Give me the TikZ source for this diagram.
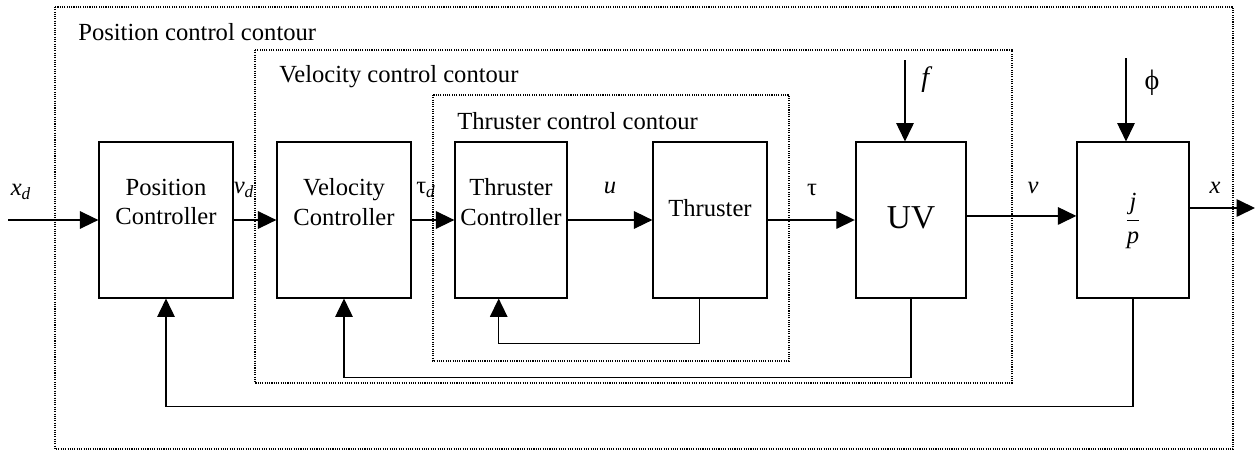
\documentclass[tikz,border=0pt]{standalone}
\usepackage{fontspec}
\setmainfont{Liberation Serif}
\usetikzlibrary{arrows.meta}

\tikzset{
  block/.style={draw, line width=1pt, minimum height=88.4pt, inner sep=0pt},
  contour/.style={line width=0.6pt, dash pattern=on 0.6pt off 0.7pt},
  sig/.style={line width=0.7pt, -{Triangle[length=10.5pt,width=10pt]}},
  txt/.style={font=\fontsize{14}{17}\selectfont, align=center, inner sep=0pt},
}

\begin{document}
\begin{tikzpicture}[x=0.02cm,y=-0.02cm]
\useasboundingbox (0,0) rectangle (1257,453);

% nested control contours
\draw[contour] (55,7) rectangle (1233,449);
\draw[contour] (255,50) rectangle (1012,383);
\draw[contour] (433,95) rectangle (789,361);
\node[txt, anchor=west] (posccl) at (78,32) {Position control contour};
\node[txt, anchor=west] (velccl) at (279,77) {Velocity control contour};
\node[txt, anchor=west] (thrccl) at (457,121) {Thruster control contour};

% blocks
\node[block, minimum width=76pt] (posc) at (166,220) {};
\node[block, minimum width=76pt] (velc) at (344,220) {};
\node[block, minimum width=63.5pt] (thrc) at (511,220) {};
\node[block, minimum width=64.6pt] (thr) at (710,220) {};
\node[block, minimum width=63pt] (uv) at (911,220) {};
\node[block, minimum width=63.5pt] (jp) at (1133,220) {};

\node[txt] (posct) at (166,202) {Position\\Controller};
\node[txt] (velct) at (344,202) {Velocity\\Controller};
\node[txt] (thrct) at (511,202) {Thruster\\Controller};
\node[txt] (thrt) at (710,208) {Thruster};
\node[txt, font=\fontsize{19}{22}\selectfont] (uvt) at (911,218) {UV};
\node[txt] (jpt) at (1133,221) {$\displaystyle\frac{\textit{j}}{\textit{p}}$};

% forward path
\coordinate (xin) at (8,220);
\coordinate (xout) at (1255,208);
\coordinate (fin) at (905,60);
\coordinate (phin) at (1126,58);
\draw[sig] (xin) -- (posc);
\draw[sig] (posc) -- (velc);
\draw[sig] (velc) -- (thrc);
\draw[sig] (thrc) -- (thr);
\draw[sig] (thr) -- (uv);
\draw[sig] ([yshift=2.3pt]uv.east) -- ([yshift=2.3pt]jp.west);
\draw[sig] (jp.east |- xout) -- (xout);
\draw[sig] (fin) -- (fin |- uv.north);
\draw[sig] (phin) -- (phin |- jp.north);

% feedback loops
\draw[sig] ([xshift=-6pt]thr.south) -- ++(0,45) -| ([xshift=-7pt]thrc.south);
\draw[sig] (uv.south) -- ++(0,79) -| (velc.south);
\draw[sig] (jp.south) -- ++(0,108) -| (posc.south);

% signal labels
\node[txt] (xdl) at (21,192) {\textit{x}\textsubscript{\textit{d}}};
\node[txt] (vdl) at (244,190) {\textit{v}\textsubscript{\textit{d}}};
\node[txt] (taudl) at (426,190) {τ\textsubscript{\textit{d}}};
\node[txt] (ul) at (610,188) {\textit{u}};
\node[txt] (taul) at (812,190) {τ};
\node[txt] (vl) at (1033,188) {\textit{v}};
\node[txt] (xl) at (1215,188) {\textit{x}};
\node[txt, font=\fontsize{16}{19}\selectfont] (fl) at (927,80) {\textit{f}};
\node[txt, font=\fontsize{16}{19}\selectfont] (phil) at (1152,83) {ϕ};
\end{tikzpicture}
\end{document}
